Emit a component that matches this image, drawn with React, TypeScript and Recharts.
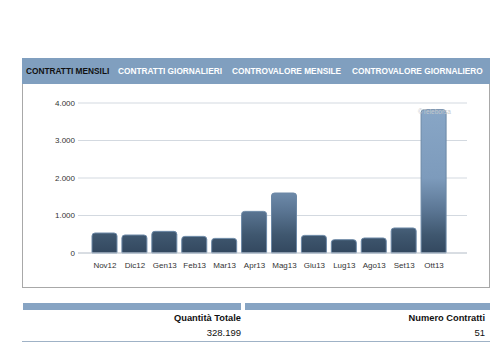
import { Bar, BarChart, CartesianGrid, XAxis, YAxis } from "recharts";

const months = ["Nov12", "Dic12", "Gen13", "Feb13", "Mar13", "Apr13", "Mag13", "Giu13", "Lug13", "Ago13", "Set13", "Ott13"];
const contratti = [533, 480, 577, 443, 390, 1110, 1600, 470, 355, 400, 667, 3822];
const yTicks = [0, 1000, 2000, 3000, 4000];
const tabs = ["CONTRATTI MENSILI", "CONTRATTI GIORNALIERI", "CONTROVALORE MENSILE", "CONTROVALORE GIORNALIERO"];
const tabLeft = [26, 118, 232, 352];
const totals = [
  { label: "Quantità Totale", value: "328.199" },
  { label: "Numero Contratti", value: "51" },
];

const data = months.map((m, i) => ({ month: m, value: contratti[i] }));

const fmt = (v: number) => v.toLocaleString("de-DE");

const FONT = "'Liberation Sans', Arial, sans-serif";

export default function App() {
  return (
    <div style={{ position: "absolute", left: 0, top: 0, width: 500, height: 360, background: "#fff", fontFamily: FONT }}>
      {/* tab strip */}
      <div style={{ position: "absolute", left: 22, top: 58, width: 468, height: 26, background: "#809fbf" }}>
        {tabs.map((t, i) => (
          <span
            key={t}
            style={{
              position: "absolute",
              left: tabLeft[i] - 22,
              top: 8,
              fontSize: 8.3,
              fontWeight: "bold",
              lineHeight: "10px",
              color: i === 0 ? "#111" : "#fff",
              whiteSpace: "nowrap",
            }}
          >
            {t}
          </span>
        ))}
      </div>

      {/* chart panel */}
      <div
        style={{
          position: "absolute",
          left: 22,
          top: 84,
          width: 468,
          height: 204,
          boxSizing: "border-box",
          borderLeft: "1px solid #a8a8a8",
          borderRight: "1px solid #a8a8a8",
          borderBottom: "1px solid #a8a8a8",
        }}
      />
      <div style={{ position: "absolute", left: 22, top: 84 }}>
        <BarChart width={468} height={204} data={data} margin={{ top: 19, right: 23, bottom: 5, left: 0 }}>
          <defs>
            <linearGradient id="barFill" gradientUnits="userSpaceOnUse" x1="0" y1="19" x2="0" y2="169">
              <stop offset="0" stopColor="#89a7c7" />
              <stop offset="0.5" stopColor="#7d9bbc" />
              <stop offset="0.72" stopColor="#5a7593" />
              <stop offset="0.88" stopColor="#3f576f" />
              <stop offset="1" stopColor="#33485f" />
            </linearGradient>
          </defs>
          <CartesianGrid vertical={false} stroke="#d3d9e0" />
          <XAxis
            dataKey="month"
            padding={{ left: 12, right: 18 }}
            tickLine={false}
            tickSize={0}
            tickMargin={9}
            axisLine={{ stroke: "#c8ced6" }}
            height={30}
            interval={0}
            tick={{ fontSize: 8, fill: "#333", fontFamily: FONT }}
          />
          <YAxis
            width={56}
            domain={[0, 4000]}
            ticks={yTicks}
            tickFormatter={fmt}
            axisLine={false}
            tickLine={false}
            tickSize={0}
            tickMargin={3}
            tick={{ fontSize: 8, fill: "#333", fontFamily: FONT }}
          />
          <Bar
            dataKey="value"
            fill="url(#barFill)"
            stroke="#6c88a6"
            strokeWidth={1}
            barSize={25}
            radius={[3, 3, 0, 0]}
            isAnimationActive={false}
          />
        </BarChart>
      </div>
      <div style={{ position: "absolute", left: 418, top: 108, fontSize: 6.5, color: "#c4c8cc", whiteSpace: "nowrap" }}>
        ©Teleborsa
      </div>

      {/* totals table */}
      {totals.map((t, i) => (
        <div
          key={t.label}
          style={{
            position: "absolute",
            left: i === 0 ? 23 : 245,
            top: 303,
            width: i === 0 ? 218 : 245,
            height: 7,
            background: "#87a4c3",
          }}
        />
      ))}
      {totals.map((t, i) => (
        <div key={t.label + "l"} style={{ position: "absolute", right: i === 0 ? 259 : 15, top: 313, fontSize: 9.3, fontWeight: "bold", color: "#111", whiteSpace: "nowrap" }}>
          {t.label}
        </div>
      ))}
      {totals.map((t, i) => (
        <div key={t.label + "v"} style={{ position: "absolute", right: i === 0 ? 259 : 15, top: 327, fontSize: 9.5, color: "#111", whiteSpace: "nowrap" }}>
          {t.value}
        </div>
      ))}
      <div style={{ position: "absolute", left: 22, top: 341, width: 468, height: 1, background: "#9fb2c6" }} />
    </div>
  );
}
